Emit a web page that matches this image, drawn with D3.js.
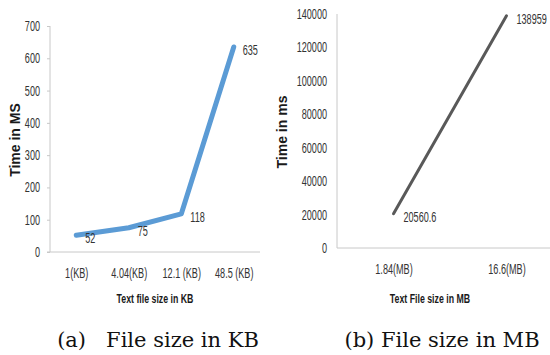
<!DOCTYPE html>
<html>
<head>
<meta charset="utf-8">
<script src="https://cdn.jsdelivr.net/npm/d3@7"></script>
<style>
    body { margin: 0; background: #fff; }
    svg { display: block; }
    .tick text, .lbl { font-family: "Liberation Sans", Arial, sans-serif; fill: #333; }
    .ttl { font-family: "Liberation Sans", Arial, sans-serif; font-weight: bold; fill: #1a1a1a; }
    .cap { font-family: "DejaVu Serif", "Liberation Serif", serif; fill: #111; }
</style>
</head>
<body>
<div id="chart"></div>
<script>
    const kbSizes = ['1(KB)', '4.04(KB)', '12.1 (KB)', '48.5 (KB)'];
    const kbTimes = [52, 75, 118, 635];
    const kbTicks = [0, 100, 200, 300, 400, 500, 600, 700];

    const mbSizes = ['1.84(MB)', '16.6(MB)'];
    const mbTimes = [20560.6, 138959];
    const mbTicks = [0, 20000, 40000, 60000, 80000, 100000, 120000, 140000];

    const narrow = 0.65; // the original uses a squeezed font

    let svg = d3.select('#chart')
                .append('svg')
                .attr('width', 550)
                .attr('height', 355);

    function squeeze(texts, factor) {
        texts.each(function () {
            let len = this.getComputedTextLength();
            d3.select(this)
              .attr('textLength', len * factor)
              .attr('lengthAdjust', 'spacingAndGlyphs');
        });
    }

    function makeLinePlot(opts) {
        let x = d3.scalePoint()
                  .domain(opts.labels)
                  .range(opts.xRange)
                  .padding(0.5);

        let y = d3.scaleLinear()
                  .domain([0, d3.max(opts.ticks)])
                  .range(opts.yRange);

        let g = svg.append('g');

        // y axis
        let yAxis = g.append('g')
                     .attr('transform', `translate(${opts.xRange[0]}, 0)`)
                     .call(d3.axisLeft(y).tickValues(opts.ticks).tickSize(opts.tickLen).tickPadding(opts.tickPad).tickFormat(d3.format('d')));
        yAxis.select('.domain').attr('stroke', '#c8c8c8').attr('d', `M0,${opts.yRange[1]}V${opts.yRange[0]}`);
        yAxis.selectAll('line').attr('stroke', '#c8c8c8');
        yAxis.selectAll('text').attr('font-size', '14px').call(squeeze, narrow);

        // x axis
        let xAxis = g.append('g')
                     .attr('transform', `translate(0, ${opts.yRange[0]})`)
                     .call(d3.axisBottom(x).tickSize(0).tickPadding(16));
        xAxis.select('.domain').attr('stroke', '#c8c8c8').attr('d', `M${opts.xRange[0] - opts.tickLen},0H${opts.xRange[1]}`);
        xAxis.selectAll('text').attr('font-size', '14px').call(squeeze, narrow);

        g.append('path')
         .datum(opts.values)
         .attr('fill', 'none')
         .attr('stroke', opts.colour)
         .attr('stroke-width', opts.lineWidth)
         .attr('stroke-linecap', 'round')
         .attr('stroke-linejoin', 'round')
         .attr('d', d3.line().x((d, i) => x(opts.labels[i])).y(d => y(d)));

        g.selectAll('.lbl')
         .data(opts.values)
         .enter()
         .append('text')
         .attr('class', 'lbl')
         .attr('x', (d, i) => x(opts.labels[i]) + opts.labelDx)
         .attr('y', d => y(d) + opts.labelDy)
         .attr('dy', '0.35em')
         .attr('font-size', '14px')
         .text(d => d)
         .call(squeeze, narrow);

        g.append('text')
         .attr('class', 'ttl')
         .attr('x', opts.xTitlePos[0])
         .attr('y', opts.xTitlePos[1])
         .attr('text-anchor', 'middle')
         .attr('font-size', '13.5px')
         .text(opts.xTitle)
         .call(squeeze, narrow);

        g.append('text')
         .attr('class', 'ttl')
         .attr('transform', `translate(${opts.yTitlePos[0]}, ${opts.yTitlePos[1]}) rotate(-90)`)
         .attr('text-anchor', 'middle')
         .attr('dy', '0.35em')
         .attr('font-size', '14px')
         .text(opts.yTitle);

        g.append('text')
         .attr('class', 'cap')
         .attr('x', opts.capPos[0])
         .attr('y', opts.capPos[1])
         .attr('text-anchor', 'middle')
         .attr('font-size', '21px')
         .attr('xml:space', 'preserve')
         .text(opts.caption);
    }

    makeLinePlot({
        labels: kbSizes,
        values: kbTimes,
        ticks: kbTicks,
        xRange: [50, 260],
        yRange: [252, 26],
        tickLen: 3,
        tickPad: 7,
        colour: '#5b9bd5',
        lineWidth: 5,
        labelDx: 9,
        labelDy: 3,
        xTitle: 'Text file size in KB',
        xTitlePos: [155, 303],
        yTitle: 'Time in MS',
        yTitlePos: [15, 140],
        caption: '(a)   File size in KB',
        capPos: [158, 347],
    });

    makeLinePlot({
        labels: mbSizes,
        values: mbTimes,
        ticks: mbTicks,
        xRange: [337, 563],
        yRange: [248, 14],
        tickLen: 0,
        tickPad: 10,
        colour: '#595959',
        lineWidth: 3,
        labelDx: 10,
        labelDy: 3,
        xTitle: 'Text File size in MB',
        xTitlePos: [430, 303],
        yTitle: 'Time in ms',
        yTitlePos: [282, 132],
        caption: '(b) File size in MB',
        capPos: [442, 347],
    });
</script>
</body>
</html>
